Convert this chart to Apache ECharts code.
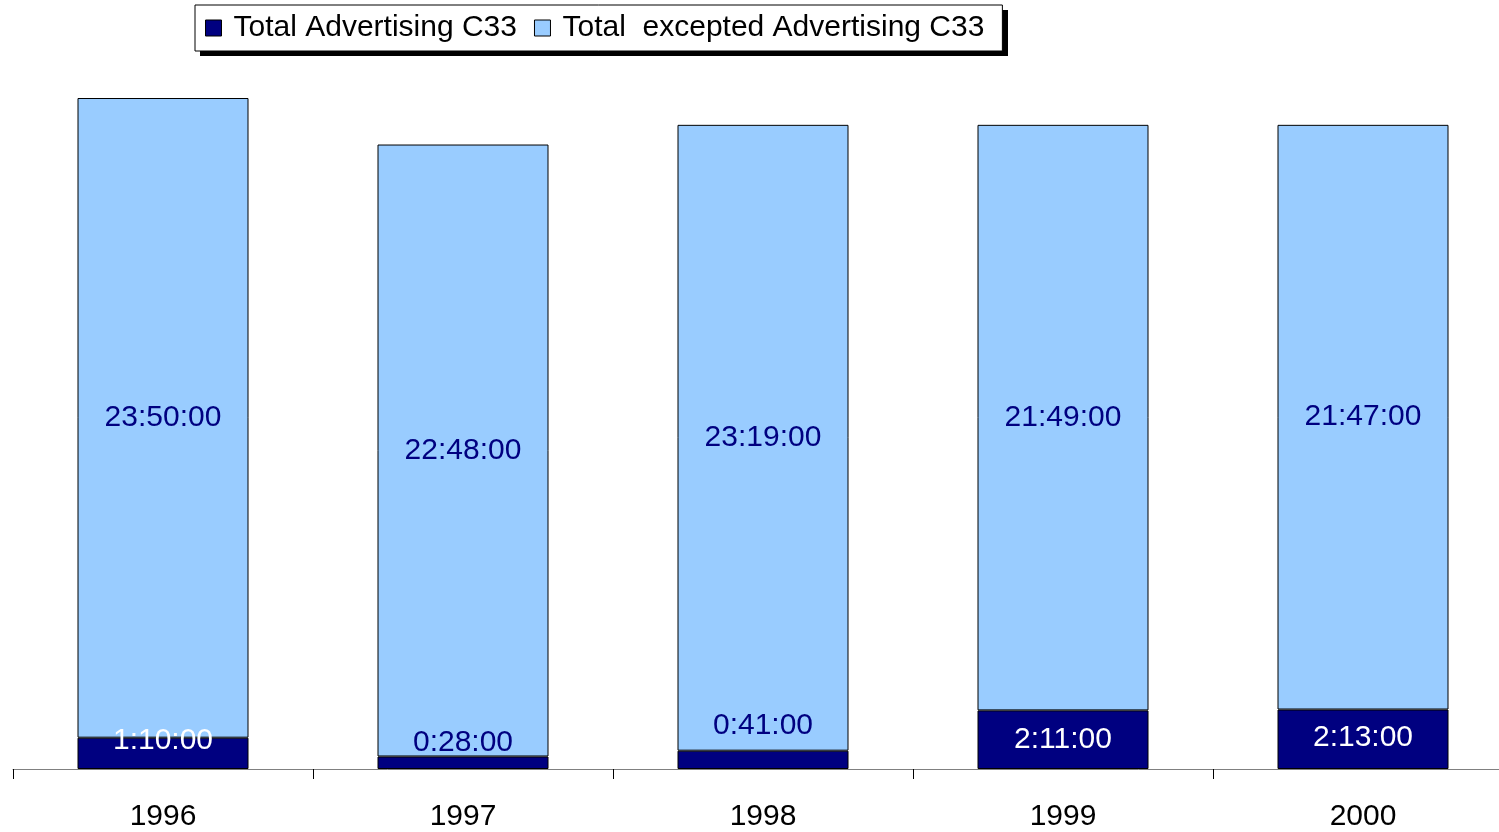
<!DOCTYPE html>
<html>
<head>
<meta charset="utf-8">
<script src="https://cdn.jsdelivr.net/npm/echarts@6/dist/echarts.min.js"></script>
<style>
  html, body { margin: 0; padding: 0; background: #fff; overflow: hidden; }
  /* the plot runs a little past the right edge of the window, as in the original */
  #chart { width: 1513px; height: 832px; }
</style>
</head>
<body>
<div id="chart"></div>
<script>
// years on the x axis
const years = ['1996', '1997', '1998', '1999', '2000']
// durations in minutes
const advertising = [70, 28, 41, 131, 133]
const exceptAdvertising = [1430, 1368, 1399, 1309, 1307]

// label tweaks for the dark segments (text colour + vertical shift)
const darkLabelColor = ['#ffffff', '#000080', '#000080', '#ffffff', '#ffffff']
const darkLabelShift = [-13, -20, -34, 0, -2]

// minutes -> h:mm:00
const fmt = function (m) {
  const h = Math.floor(m / 60)
  const mm = m % 60
  return h + ':' + (mm < 10 ? '0' + mm : mm) + ':00'
}

const chart = echarts.init(document.getElementById('chart'))

const option = {
  animation: false,
  backgroundColor: '#fff',
  textStyle: { fontFamily: 'Liberation Sans, Arial, sans-serif' },
  // legend drop shadow
  graphic: [{
    type: 'rect',
    left: 200,
    top: 10,
    z: 1,
    shape: { width: 808, height: 46 },
    style: { fill: '#000' }
  }],
  legend: {
    left: 195,
    top: 5,
    z: 5,
    padding: [8, 18, 8, 10],
    itemGap: 17,
    itemWidth: 16,
    itemHeight: 16,
    icon: 'rect',
    backgroundColor: '#fff',
    borderColor: '#000',
    borderWidth: 1,
    itemStyle: { borderColor: '#000', borderWidth: 1 },
    textStyle: { fontSize: 30, color: '#000', padding: [0, 0, 0, 7] },
    data: ['Total Advertising C33', 'Total  excepted Advertising C33']
  },
  grid: { left: 13, right: 0, top: 98, bottom: 61 },
  xAxis: {
    type: 'category',
    data: years,
    axisLine: { lineStyle: { color: '#808080', width: 1 } },
    axisTick: { show: true, length: 10, lineStyle: { color: '#000' } },
    axisLabel: { fontSize: 30, color: '#000', margin: 33 }
  },
  yAxis: {
    type: 'value',
    min: 0,
    max: 1500,
    show: false,
    splitLine: { show: false }
  },
  series: [
    {
      name: 'Total Advertising C33',
      type: 'bar',
      stack: 'total',
      barWidth: 171,
      itemStyle: { color: '#000080', borderColor: '#000', borderWidth: 1 },
      data: advertising.map((v, i) => ({
        value: v,
        label: { color: darkLabelColor[i], offset: [0, darkLabelShift[i]] }
      })),
      label: {
        show: true,
        position: 'inside',
        fontSize: 30,
        formatter: p => fmt(p.value)
      }
    },
    {
      name: 'Total  excepted Advertising C33',
      type: 'bar',
      stack: 'total',
      barWidth: 171,
      itemStyle: { color: '#99ccff', borderColor: '#000', borderWidth: 1 },
      data: exceptAdvertising,
      label: {
        show: true,
        position: 'inside',
        fontSize: 30,
        color: '#000080',
        formatter: p => fmt(p.value)
      }
    }
  ]
}

chart.setOption(option)
</script>
</body>
</html>
